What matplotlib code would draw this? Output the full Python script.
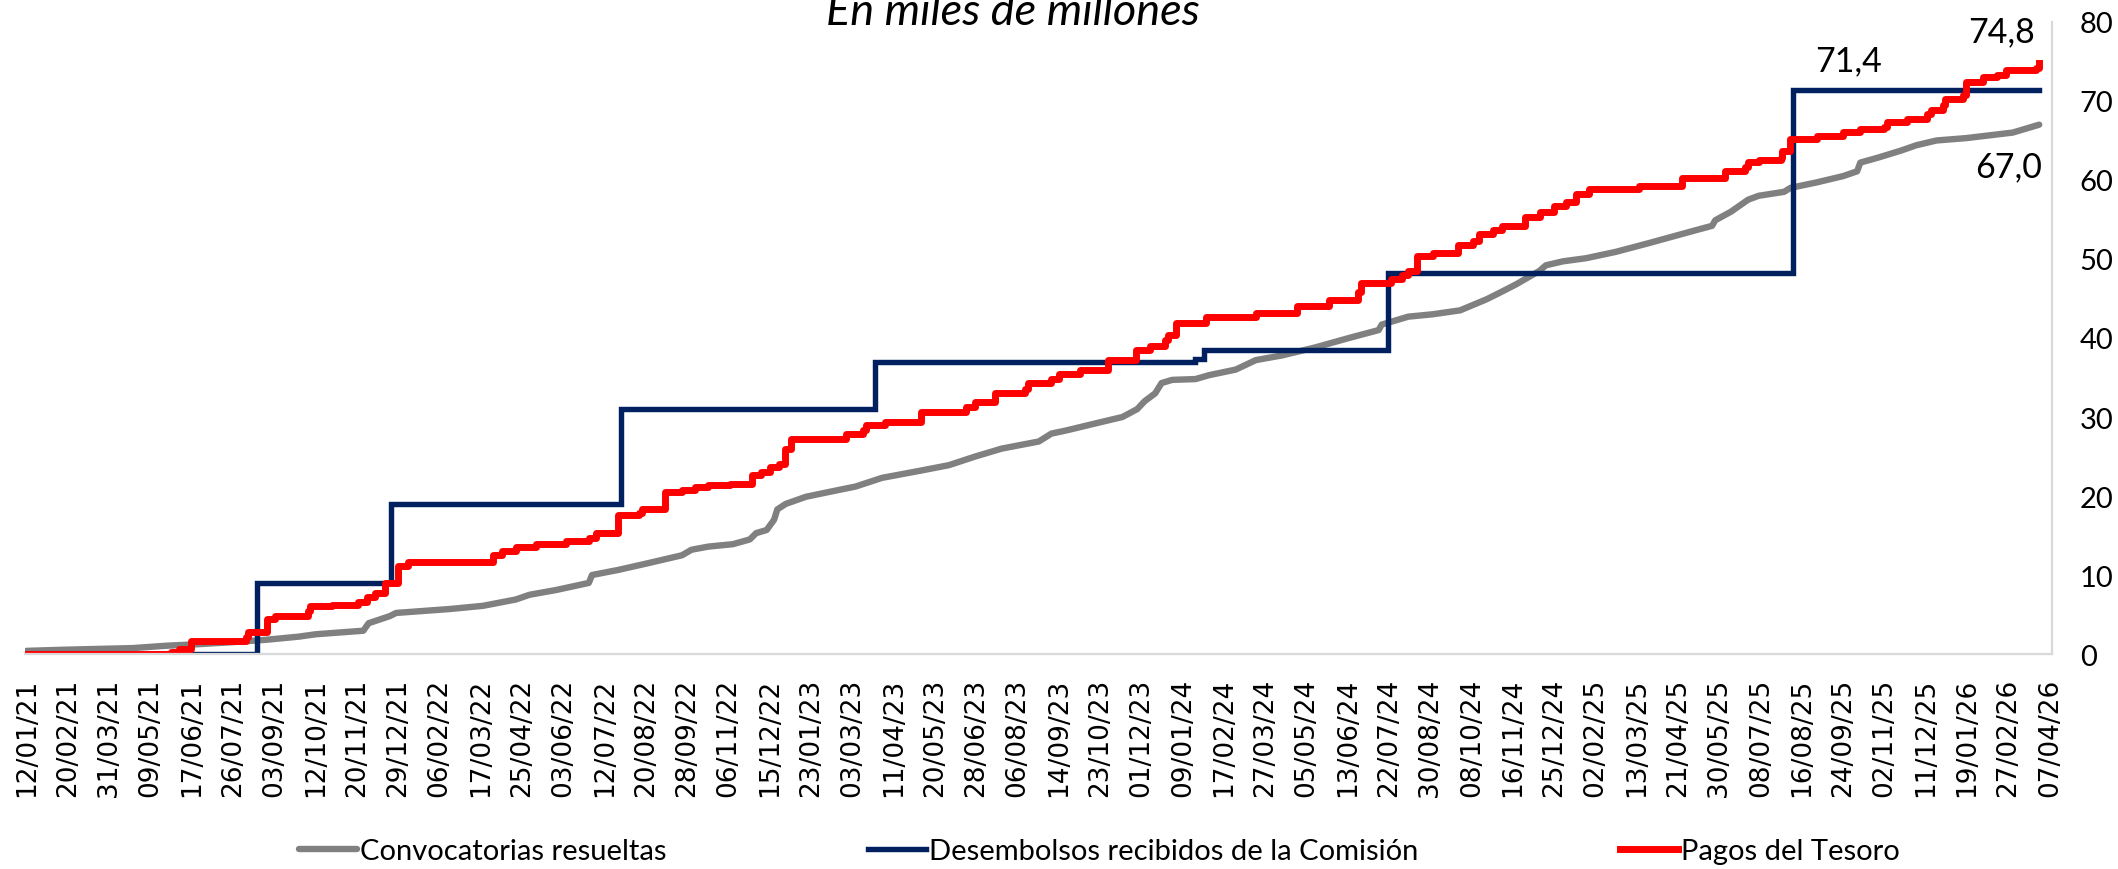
import matplotlib
matplotlib.use('Agg')
import matplotlib.pyplot as plt
import pandas as pd

# etiquetas del eje X (cada 39 dias)
tick_labels = ['12/01/21', '20/02/21', '31/03/21', '09/05/21', '17/06/21', '26/07/21', '03/09/21',
               '12/10/21', '20/11/21', '29/12/21', '06/02/22', '17/03/22', '25/04/22', '03/06/22',
               '12/07/22', '20/08/22', '28/09/22', '06/11/22', '15/12/22', '23/01/23', '03/03/23',
               '11/04/23', '20/05/23', '28/06/23', '06/08/23', '14/09/23', '23/10/23', '01/12/23',
               '09/01/24', '17/02/24', '27/03/24', '05/05/24', '13/06/24', '22/07/24', '30/08/24',
               '08/10/24', '16/11/24', '25/12/24', '02/02/25', '13/03/25', '21/04/25', '30/05/25',
               '08/07/25', '16/08/25', '24/09/25', '02/11/25', '11/12/25', '19/01/26', '27/02/26',
               '07/04/26']
yticks = [0, 10, 20, 30, 40, 50, 60, 70, 80]

# Desembolsos recibidos de la Comision
desemb_fechas = ['2021-01-12', '2021-08-18', '2021-12-22', '2022-07-27', '2023-03-24',
                 '2024-01-21', '2024-01-29', '2024-07-21', '2025-08-07', '2026-03-28']
desemb_valores = [0.0, 9.0, 19.0, 31.0, 37.0, 37.3, 38.5, 48.2, 71.4, 71.4]

# Pagos del Tesoro
pagos_fechas = ['2021-01-12', '2021-05-28', '2021-06-05', '2021-06-16', '2021-08-07', '2021-08-09',
                '2021-08-27', '2021-09-04', '2021-10-05', '2021-10-07', '2021-10-27', '2021-11-21',
                '2021-11-29', '2021-12-07', '2021-12-16', '2021-12-29', '2022-01-07', '2022-03-28',
                '2022-04-06', '2022-04-19', '2022-05-08', '2022-06-05', '2022-06-27', '2022-07-04',
                '2022-07-25', '2022-08-13', '2022-08-16', '2022-09-07', '2022-09-23', '2022-10-05',
                '2022-10-18', '2022-11-07', '2022-11-28', '2022-12-07', '2022-12-15', '2022-12-24',
                '2022-12-29', '2023-01-04', '2023-02-25', '2023-03-13', '2023-03-16', '2023-04-03',
                '2023-05-07', '2023-06-18', '2023-06-27', '2023-07-16', '2023-08-13', '2023-08-16',
                '2023-09-07', '2023-09-14', '2023-10-04', '2023-10-30', '2023-11-26', '2023-12-09',
                '2023-12-23', '2023-12-26', '2024-01-03', '2024-01-31', '2024-03-18', '2024-04-26',
                '2024-05-26', '2024-06-23', '2024-06-25', '2024-07-24', '2024-08-03', '2024-08-09',
                '2024-08-17', '2024-09-01', '2024-09-25', '2024-10-09', '2024-10-15', '2024-10-28',
                '2024-11-06', '2024-11-27', '2024-12-11', '2024-12-25', '2025-01-05', '2025-01-14',
                '2025-01-27', '2025-03-15', '2025-04-25', '2025-06-04', '2025-06-23', '2025-06-26',
                '2025-07-06', '2025-07-27', '2025-07-28', '2025-08-05', '2025-08-30', '2025-09-24',
                '2025-10-10', '2025-11-01', '2025-11-04', '2025-11-23', '2025-12-12', '2025-12-16',
                '2025-12-27', '2025-12-29', '2026-01-15', '2026-01-18', '2026-02-03', '2026-02-16',
                '2026-02-25', '2026-03-25', '2026-03-28']
pagos_valores = [0.0, 0.2, 0.6, 1.7, 2.1, 2.75, 4.4, 4.85, 5.5, 6.1, 6.25, 6.6,
                 7.2, 7.7, 9.0, 11.1, 11.7, 12.5, 13.1, 13.6, 13.9, 14.3, 14.65, 15.3,
                 17.6, 17.9, 18.4, 20.5, 20.8, 21.2, 21.4, 21.5, 22.7, 23.1, 23.7, 24.1,
                 26.0, 27.2, 27.9, 28.3, 29.0, 29.4, 30.6, 31.3, 31.9, 33.0, 33.6, 34.3,
                 34.8, 35.5, 36.0, 37.2, 38.5, 39.0, 39.7, 40.4, 41.9, 42.6, 43.2, 44.0,
                 44.8, 45.8, 47.0, 47.5, 48.0, 48.5, 50.4, 50.7, 51.8, 52.3, 53.1, 53.7,
                 54.2, 55.3, 55.9, 56.7, 57.2, 58.2, 58.9, 59.3, 60.2, 61.1, 61.6, 62.3,
                 62.5, 62.8, 63.7, 65.2, 65.6, 66.1, 66.4, 66.7, 67.3, 67.7, 68.4, 68.9,
                 69.5, 70.2, 70.7, 72.4, 73.0, 73.3, 73.9, 74.2, 74.8]

# Convocatorias resueltas
conv_fechas = ['2021-01-12', '2021-02-18', '2021-04-22', '2021-05-24', '2021-06-24', '2021-07-25',
               '2021-08-26', '2021-09-26', '2021-10-12', '2021-11-21', '2021-11-26', '2021-12-01',
               '2021-12-21', '2021-12-27', '2022-02-16', '2022-03-19', '2022-04-19', '2022-05-02',
               '2022-05-27', '2022-06-27', '2022-06-30', '2022-07-25', '2022-08-22', '2022-09-23',
               '2022-10-02', '2022-10-18', '2022-11-10', '2022-11-26', '2022-12-02', '2022-12-12',
               '2022-12-19', '2022-12-22', '2022-12-30', '2023-01-18', '2023-02-12', '2023-03-06',
               '2023-03-31', '2023-05-02', '2023-06-02', '2023-06-27', '2023-07-22', '2023-08-26',
               '2023-09-07', '2023-09-21', '2023-10-22', '2023-11-13', '2023-11-27', '2023-12-04',
               '2023-12-14', '2023-12-20', '2023-12-30', '2024-01-21', '2024-02-03', '2024-02-28',
               '2024-03-18', '2024-04-12', '2024-05-13', '2024-06-14', '2024-07-12', '2024-07-15',
               '2024-08-09', '2024-09-01', '2024-09-27', '2024-10-22', '2024-11-03', '2024-11-19',
               '2024-12-11', '2024-12-17', '2025-01-02', '2025-01-24', '2025-02-21', '2025-03-24',
               '2025-05-01', '2025-05-23', '2025-05-26', '2025-06-10', '2025-06-26', '2025-07-06',
               '2025-07-30', '2025-08-05', '2025-08-30', '2025-09-24', '2025-10-07', '2025-10-10',
               '2025-10-26', '2025-11-17', '2025-12-02', '2025-12-21', '2026-01-18', '2026-03-03',
               '2026-03-28']
conv_valores = [0.4, 0.55, 0.75, 1.05, 1.25, 1.5, 1.8, 2.2, 2.5, 2.9, 2.95, 3.9,
                4.8, 5.2, 5.7, 6.1, 6.9, 7.5, 8.1, 9.0, 10.0, 10.65, 11.5, 12.5,
                13.2, 13.6, 13.9, 14.5, 15.3, 15.7, 17.0, 18.3, 19.0, 19.9, 20.6, 21.2,
                22.3, 23.1, 23.9, 25.0, 26.0, 26.9, 27.9, 28.3, 29.3, 30.0, 31.0, 32.0,
                33.0, 34.3, 34.7, 34.8, 35.3, 36.0, 37.2, 37.8, 38.8, 40.0, 41.0, 41.7,
                42.7, 43.0, 43.5, 44.9, 45.7, 46.8, 48.5, 49.2, 49.7, 50.1, 50.9, 52.0,
                53.4, 54.2, 54.9, 56.0, 57.5, 58.0, 58.5, 59.0, 59.7, 60.5, 61.1, 62.2,
                62.8, 63.7, 64.4, 65.0, 65.3, 66.0, 67.0]

GRIS = '#808080'
AZUL = '#002060'
ROJO = '#FF0000'
FUENTE = ['Lato', 'DejaVu Sans']

fig = plt.figure(figsize=(21.18, 8.70), dpi=100)
ax = fig.add_axes([0.0116, 0.2471, 0.9572, 0.7265])

ax.plot(pd.to_datetime(conv_fechas), conv_valores, color=GRIS, lw=4.6,
        solid_capstyle='round', label='Convocatorias resueltas')
ax.plot(pd.to_datetime(desemb_fechas), desemb_valores, color=AZUL, lw=3.9,
        drawstyle='steps-post', solid_joinstyle='miter', label='Desembolsos recibidos de la Comisión')
ax.plot(pd.to_datetime(pagos_fechas), pagos_valores, color=ROJO, lw=5.0,
        drawstyle='steps-post', label='Pagos del Tesoro')

ax.set_xlim(pd.Timestamp('2021-01-10'), pd.Timestamp('2026-04-09'))
ax.set_ylim(0, 80)

ticks = pd.to_datetime(tick_labels, format='%d/%m/%y')
ax.set_xticks(ticks)
ax.set_xticklabels(tick_labels, rotation=90, fontsize=19, family='DejaVu Sans')
ax.tick_params(axis='x', length=0, pad=17)

ax.yaxis.tick_right()
ax.set_yticks(yticks)
ax.set_yticklabels([str(v) for v in yticks], fontsize=21, family=FUENTE)
ax.tick_params(axis='y', length=0, pad=20)

for s in ['top', 'left']:
    ax.spines[s].set_visible(False)
for s in ['right', 'bottom']:
    ax.spines[s].set_color('#D9D9D9')
    ax.spines[s].set_linewidth(1.6)

# etiquetas de los ultimos valores
ax.annotate('74,8', (pd.Timestamp(pagos_fechas[-1]), pagos_valores[-1]), xytext=(-27, 23),
            textcoords='offset points', ha='center', va='center', fontsize=24.5, family=FUENTE)
ax.annotate('71,4', (pd.Timestamp(desemb_fechas[-2]), desemb_valores[-2]), xytext=(40, 21),
            textcoords='offset points', ha='center', va='center', fontsize=24.5, family=FUENTE)
ax.annotate('67,0', (pd.Timestamp(conv_fechas[-1]), conv_valores[-1]), xytext=(-22, -30),
            textcoords='offset points', ha='center', va='center', fontsize=24.5, family=FUENTE)

fig.text(0.478, 0.971, 'En miles de millones', ha='center', va='baseline', fontsize=32.5,
         style='italic', family=FUENTE)

fig.legend(loc='center', bbox_to_anchor=(0.519, 0.021), ncol=3, frameon=False,
           prop={'family': FUENTE, 'size': 21}, handlelength=2.0, handletextpad=0.1,
           columnspacing=6.9)

fig.savefig('out.png', dpi=100)
